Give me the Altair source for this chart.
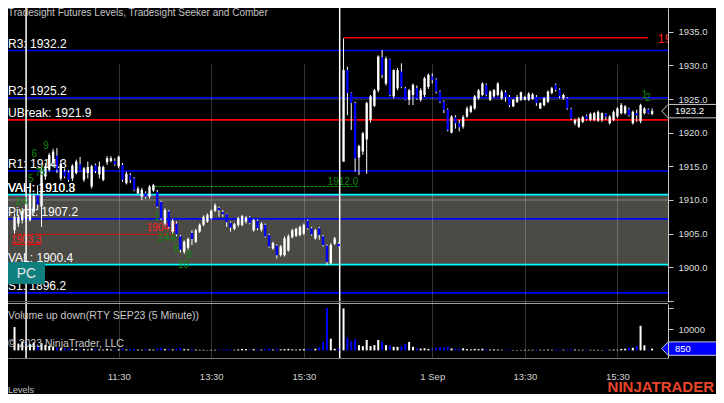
import altair as alt
import pandas as pd

FONT = "Liberation Sans"

# ------------------------------------------------------------------ data
# bar number: 0 = 9:35 bar of Aug 31; day-2 bars follow after the session break
day1_first_bar = -4
day2_first_bar = 81.3

day1_open = [1905.5, 1906.5, 1907.0, 1907.2, 1907.0, 1908.3, 1910.7, 1909.0, 1913.5, 1914.5,
             1915.5, 1916.6, 1913.2, 1914.2, 1914.1, 1913.2, 1914.0, 1915.3, 1913.0, 1914.0,
             1912.0, 1915.2, 1913.8, 1913.0, 1915.6, 1915.8, 1915.8, 1915.0, 1915.2, 1912.5,
             1913.7, 1913.2, 1911.0, 1910.5, 1911.0, 1910.5, 1911.4, 1911.2, 1909.7, 1906.5,
             1908.3, 1905.3, 1906.5, 1904.6, 1902.3, 1902.9, 1905.1, 1903.8, 1905.3, 1906.3,
             1906.8, 1907.3, 1908.4, 1908.8, 1908.2, 1907.9, 1906.6, 1905.7, 1906.3, 1906.3,
             1906.8, 1907.4, 1905.5, 1906.9, 1905.6, 1906.3, 1904.8, 1902.8, 1903.2, 1901.8,
             1901.8, 1902.5, 1904.5, 1904.7, 1904.8, 1905.0, 1906.9, 1905.8, 1904.3, 1905.8,
             1904.6, 1903.2, 1900.6, 1903.5, 1903.5]
day1_high = [1908.0, 1907.8, 1908.8, 1910.3, 1911.5, 1911.0, 1912.2, 1914.9, 1915.5, 1917.0,
             1917.6, 1917.7, 1915.9, 1914.7, 1914.4, 1915.3, 1916.0, 1916.4, 1914.9, 1915.7,
             1915.2, 1915.4, 1915.7, 1915.1, 1916.5, 1916.5, 1916.2, 1916.6, 1915.5, 1914.2,
             1914.0, 1913.4, 1912.0, 1911.8, 1911.3, 1912.2, 1912.4, 1911.5, 1909.9, 1908.8,
             1908.5, 1907.2, 1906.8, 1904.8, 1904.0, 1904.4, 1905.5, 1905.7, 1906.5, 1907.7,
             1908.0, 1908.6, 1909.5, 1909.0, 1908.5, 1908.0, 1906.8, 1906.6, 1907.5, 1907.8,
             1907.6, 1907.6, 1907.2, 1907.1, 1906.7, 1906.5, 1905.0, 1903.8, 1903.4, 1903.3,
             1904.6, 1904.9, 1905.7, 1905.9, 1906.2, 1906.5, 1907.1, 1906.0, 1905.7, 1906.0,
             1904.8, 1903.4, 1903.6, 1904.5, 1903.7]
day1_low = [1905.0, 1906.0, 1906.5, 1906.8, 1906.8, 1908.0, 1908.5, 1906.0, 1913.0, 1914.2,
            1914.9, 1914.0, 1912.9, 1913.2, 1912.7, 1912.8, 1913.8, 1914.2, 1912.7, 1913.2,
            1911.7, 1914.0, 1913.2, 1912.8, 1915.2, 1915.6, 1915.1, 1914.7, 1912.7, 1912.3,
            1912.5, 1911.3, 1910.9, 1910.0, 1910.2, 1910.2, 1911.2, 1908.8, 1907.0, 1906.2,
            1905.8, 1905.0, 1904.6, 1902.2, 1902.0, 1902.6, 1903.3, 1903.6, 1905.1, 1906.1,
            1906.6, 1907.1, 1908.2, 1907.5, 1907.5, 1906.0, 1905.3, 1905.5, 1906.0, 1906.1,
            1906.5, 1906.4, 1905.3, 1905.5, 1905.3, 1904.4, 1902.9, 1902.6, 1901.3, 1901.6,
            1901.6, 1902.3, 1904.3, 1904.5, 1904.6, 1904.8, 1905.6, 1904.7, 1904.1, 1904.1,
            1903.1, 1900.3, 1900.4, 1903.3, 1903.0]
day1_close = [1907.5, 1907.5, 1908.3, 1909.5, 1910.8, 1910.6, 1909.3, 1914.5, 1915.0, 1916.7,
              1917.2, 1914.5, 1915.4, 1913.5, 1913.0, 1915.1, 1915.7, 1914.3, 1914.7, 1914.9,
              1915.0, 1914.3, 1915.0, 1914.9, 1916.2, 1916.2, 1915.3, 1916.4, 1913.0, 1913.9,
              1913.0, 1911.5, 1911.7, 1911.5, 1910.5, 1912.0, 1912.2, 1909.0, 1907.3, 1908.5,
              1906.0, 1906.9, 1904.9, 1902.6, 1903.8, 1904.2, 1904.2, 1905.5, 1906.3, 1907.5,
              1907.8, 1908.4, 1909.2, 1908.5, 1907.9, 1906.7, 1905.9, 1906.4, 1907.3, 1907.6,
              1907.4, 1906.6, 1907.0, 1905.8, 1906.5, 1904.6, 1903.1, 1903.6, 1901.8, 1903.1,
              1904.3, 1904.6, 1905.5, 1905.7, 1906.0, 1906.3, 1905.8, 1904.9, 1905.5, 1904.8,
              1903.3, 1900.8, 1903.3, 1904.3, 1903.1]
day1_vol = [11000, 3200, 4200, 2800, 3000, 3800, 2200, 3400, 2600, 2100,
            1800, 1400, 1200, 900, 1000, 800, 700, 600, 700, 500,
            900, 600, 500, 400, 700, 400, 300, 500, 900, 400,
            500, 700, 400, 300, 600, 500, 400, 900, 1100, 600,
            700, 500, 800, 1200, 600, 500, 700, 400, 300, 300,
            200, 300, 300, 400, 300, 500, 400, 300, 500, 700,
            600, 400, 600, 500, 400, 700, 900, 400, 800, 500,
            600, 700, 500, 400, 500, 600, 700, 600, 800, 1600,
            4000, 20000, 5500, 800, 800]

day2_open = [1915.7, 1929.3, 1925.9, 1924.4, 1916.3, 1917.2, 1919.0, 1921.9, 1924.0, 1926.3,
             1931.2, 1927.3, 1930.9, 1925.4, 1926.6, 1929.1, 1926.6, 1924.9, 1925.6, 1926.6,
             1924.9, 1925.6, 1926.8, 1928.4, 1927.9, 1926.1, 1924.6, 1923.4, 1920.0, 1922.3,
             1921.4, 1920.9, 1922.4, 1923.1, 1923.6, 1925.1, 1925.6, 1927.1, 1924.9, 1925.4,
             1925.6, 1925.1, 1926.0, 1925.3, 1923.9, 1924.6, 1924.9, 1924.9, 1924.9, 1925.0,
             1925.3, 1923.6, 1924.1, 1924.6, 1925.9, 1927.1, 1926.4, 1925.1, 1925.1, 1923.5,
             1921.4, 1920.9, 1921.6, 1922.5, 1921.9, 1921.9, 1921.8, 1921.9, 1922.8, 1921.4,
             1921.9, 1922.4, 1922.9, 1922.9, 1923.5, 1921.4, 1922.9, 1921.7, 1922.9, 1923.4,
             1922.8]
day2_high = [1934.0, 1929.8, 1926.0, 1924.6, 1918.2, 1920.1, 1924.6, 1925.6, 1926.5, 1931.5,
             1932.3, 1931.3, 1931.0, 1929.4, 1929.6, 1930.3, 1926.8, 1926.5, 1927.3, 1927.0,
             1926.6, 1928.3, 1928.8, 1928.8, 1928.1, 1926.3, 1924.8, 1923.6, 1922.6, 1922.6,
             1921.9, 1922.6, 1923.9, 1924.1, 1925.6, 1926.5, 1927.5, 1927.3, 1926.3, 1926.5,
             1927.5, 1926.4, 1926.3, 1925.6, 1925.0, 1925.6, 1926.1, 1925.5, 1926.0, 1925.9,
             1925.6, 1924.5, 1925.3, 1926.3, 1926.8, 1927.3, 1926.6, 1925.8, 1925.3, 1923.7,
             1922.1, 1922.3, 1922.5, 1922.7, 1923.0, 1923.1, 1923.3, 1923.0, 1922.9, 1922.6,
             1923.3, 1923.8, 1924.4, 1924.1, 1923.7, 1923.3, 1923.4, 1924.3, 1923.8, 1923.6,
             1923.6]
day2_low = [1915.7, 1922.6, 1920.4, 1914.2, 1913.7, 1916.7, 1913.9, 1921.5, 1923.8, 1926.0,
            1928.1, 1927.0, 1925.4, 1925.1, 1926.3, 1926.6, 1924.8, 1924.1, 1924.1, 1924.9,
            1924.6, 1925.3, 1926.5, 1927.3, 1925.8, 1924.4, 1922.9, 1920.2, 1919.9, 1920.6,
            1920.2, 1920.6, 1922.2, 1922.9, 1923.4, 1924.9, 1925.4, 1925.4, 1924.7, 1925.2,
            1925.4, 1924.9, 1924.6, 1923.8, 1923.8, 1924.4, 1924.7, 1924.8, 1924.7, 1924.9,
            1924.0, 1923.5, 1923.9, 1924.4, 1925.7, 1926.1, 1925.1, 1924.9, 1923.4, 1921.9,
            1921.1, 1920.7, 1921.4, 1921.8, 1921.7, 1921.7, 1921.6, 1921.6, 1921.9, 1921.2,
            1921.7, 1922.2, 1922.7, 1922.7, 1922.4, 1921.2, 1921.6, 1921.4, 1922.7, 1922.8,
            1922.6]
day2_close = [1929.3, 1925.9, 1924.4, 1916.2, 1918.0, 1919.9, 1924.4, 1925.4, 1926.3, 1931.3,
              1928.6, 1931.0, 1925.6, 1929.3, 1929.3, 1926.8, 1924.9, 1926.3, 1927.1, 1925.1,
              1926.3, 1928.1, 1928.6, 1927.8, 1926.1, 1924.6, 1923.4, 1920.4, 1922.4, 1921.4,
              1920.8, 1922.3, 1923.6, 1923.9, 1925.4, 1926.3, 1927.3, 1925.6, 1926.1, 1926.3,
              1927.3, 1926.1, 1925.3, 1924.1, 1924.9, 1925.3, 1926.0, 1925.3, 1925.8, 1925.7,
              1924.4, 1924.4, 1925.1, 1926.1, 1926.6, 1926.4, 1925.4, 1925.6, 1923.6, 1922.1,
              1921.9, 1922.1, 1922.3, 1922.0, 1922.8, 1922.9, 1923.1, 1922.9, 1922.4, 1922.4,
              1923.1, 1923.6, 1924.1, 1923.9, 1922.6, 1923.1, 1922.6, 1924.1, 1923.6, 1922.9,
              1923.2]
day2_vol = [19800, 6000, 4400, 5200, 2500, 2000, 4900, 2000, 2500, 4900,
            4000, 2500, 2400, 1700, 1700, 2000, 3000, 4000, 1700, 900,
            800, 1000, 700, 600, 1300, 1500, 1400, 1800, 900, 700,
            800, 1000, 600, 500, 700, 600, 800, 500, 400, 500,
            400, 300, 300, 300, 200, 200, 200, 300, 300, 300,
            400, 300, 300, 400, 300, 500, 400, 300, 500, 600,
            400, 300, 300, 400, 300, 300, 300, 200, 300, 300,
            400, 300, 700, 800, 1300, 1200, 2000, 11600, 2400, 300,
            850]

time_tick_bars = [23, 47, 71, 104.3, 128.3, 152.3]
time_tick_labels = ["11:30", "13:30", "15:30", "1 Sep", "13:30", "15:30"]
session_marker_bars = [-1.0, 80.3]

price_ticks = [1895, 1900, 1905, 1910, 1915, 1920, 1925, 1930, 1935]
volume_ticks = [10000, 20000]

level_names = ["R4", "R3", "R2", "UBreak", "R1", "VAH", "Pivot", "VAL", "S1"]
level_values = [1939.1, 1932.2, 1925.2, 1921.9, 1914.3, 1910.8, 1907.2, 1900.4, 1896.2]
level_kinds = ["pivot", "pivot", "pivot", "break", "pivot", "va", "pivot", "va", "pivot"]
extra_label_text = ["VAH: 1910.3"]
extra_label_values = [1910.8]
minor_level_values = [1925.0, 1910.0]
prior_vah = 1910.6
value_area_low, value_area_high = 1900.4, 1910.8

# partial lines: name, price, first bar, last bar, label
seg_names = ["session high", "seeker stop", "seeker prior", "comber target"]
seg_values = [1934.1, 1904.9, 1903.4, 1912.0]
seg_start = [81.3, -4.0, -4.4, 32.3]
seg_end = [160.3, 38.2, 3.0, 85.1]
seg_labels = ["1934.1", "1904.9", "1903.3", "1912.0"]

count_text = ["9", "6", "8", "7", "5", "2", "4", "1", "2", "4", "6", "6", "8", "10", "1", "2"]
count_bar = [4.2, 1.1, 3.2, 2.1, 0.2, -3.0, -1.4, 32.9, 33.9, 35.5, 37.3, 38.0, 41.2, 39.8, 159.35, 160.2]
count_price = [1918.0, 1916.8, 1914.2, 1914.0, 1913.1, 1909.7, 1909.7, 1907.5, 1904.35, 1904.35,
               1904.35, 1902.7, 1901.9, 1900.4, 1925.6, 1925.1]

last_price = 1923.2
last_volume = 850

# ------------------------------------------------------------------ frames
n1, n2 = len(day1_open), len(day2_open)
bars = pd.DataFrame({
    "bar": [day1_first_bar + i for i in range(n1)] + [day2_first_bar + j for j in range(n2)],
    "open": day1_open + day2_open,
    "high": day1_high + day2_high,
    "low": day1_low + day2_low,
    "close": day1_close + day2_close,
    "vol": day1_vol + day2_vol,
})
levels = pd.DataFrame({"name": level_names, "value": level_values, "kind": level_kinds})
levels["label"] = [f"{n}: {v:.1f}" for n, v in zip(level_names, level_values)]
# the R4 label lies above the visible pane, only draw the others
labels_df = pd.concat([levels[levels.value < 1938][["label", "value"]],
                       pd.DataFrame({"label": extra_label_text, "value": extra_label_values})])
segs = pd.DataFrame({"name": seg_names, "value": seg_values, "start": seg_start,
                     "end": seg_end, "label": seg_labels})
counts = pd.DataFrame({"t": count_text, "bar": count_bar, "price": count_price})

# ------------------------------------------------------------------ layout
W, H = 660, 350
PRICE_PX = 294
VOL_TOP, VOL_BOT = 296, 350
P_MIN, P_MAX = 1894.845, 1938.523
V_MIN, V_MAX = -3585, 21887
X_MIN, X_MAX = -4.394, 164.12

X_SCALE = alt.Scale(domain=[X_MIN, X_MAX], nice=False, zero=False)
label_expr = " : ".join(f"abs(datum.value - {v}) < 0.01 ? '{t}'"
                        for v, t in zip(time_tick_bars, time_tick_labels)) + " : ''"
X_AXIS = alt.Axis(values=time_tick_bars, labelExpr=label_expr, grid=True, gridColor="#ffffff",
                  gridOpacity=0.2, gridWidth=1, domainColor="#7c7c7c", ticks=False, tickSize=0,
                  labelColor="#d2d2d2", labelFontSize=9.5, labelFont=FONT, labelPadding=13,
                  title=None, zindex=1, labelFlush=False, labelOverlap=False)
P_AXIS = alt.Axis(orient="right", values=price_ticks,
                  labelExpr="datum.value < 1899 ? '' : format(datum.value, '.1f')",
                  tickSize=5, tickColor="#c8c8c8", domainColor="#c8c8c8", labelColor="#dcdcdc",
                  labelFontSize=9.5, labelFont=FONT, labelPadding=5, grid=False, title=None,
                  zindex=1, labelFlush=False, labelOverlap=False)
V_AXIS = alt.Axis(orient="right", values=volume_ticks,
                  labelExpr="datum.value == 10000 ? '10000' : ''",
                  tickSize=5, tickColor="#c8c8c8", domainColor="#c8c8c8", labelColor="#dcdcdc",
                  labelFontSize=9.5, labelFont=FONT, labelPadding=5, grid=False, title=None,
                  zindex=1, labelFlush=False, labelOverlap=False)


def bx(field):
    return alt.X(f"{field}:Q", scale=X_SCALE, axis=X_AXIS)


def py(field, axis=None):
    return alt.Y(f"{field}:Q", axis=axis,
                 scale=alt.Scale(domain=[P_MIN, P_MAX], range=[PRICE_PX, 0], nice=False, zero=False))


def vy(field, axis=None):
    return alt.Y(f"{field}:Q", axis=axis,
                 scale=alt.Scale(domain=[V_MIN, V_MAX], range=[VOL_BOT, VOL_TOP], nice=False, zero=False))


UP = "#ffffff"
DOWN = "#0000ff"
is_up = alt.datum.close >= alt.datum.open

layers = []

# value area box
va_df = pd.DataFrame({"lo": [value_area_low], "hi": [value_area_high]})
layers.append(alt.Chart(va_df).mark_rect(color="#4b4a45").encode(
    x=alt.value(0), x2=alt.value(W), y=py("hi"), y2="lo:Q"))

# minor grey levels
layers.append(alt.Chart(pd.DataFrame({"value": minor_level_values})).mark_rule(
    color="#ffffff", opacity=0.3, strokeWidth=1).encode(y=py("value")))

# prior VAH (magenta) on day 1
layers.append(alt.Chart(pd.DataFrame({"value": [prior_vah], "start": [X_MIN], "end": [session_marker_bars[1]]}))
              .mark_rule(color="#c000c0", strokeWidth=1).encode(x=bx("start"), x2="end:Q", y=py("value")))

kind_color = {"pivot": "#0000ff", "break": "#ff0000", "va": "#00ffff"}
for kind, col in kind_color.items():
    sub = levels[levels.kind == kind]
    layers.append(alt.Chart(sub).mark_rule(color=col, strokeWidth=1.6).encode(y=py("value")))

# partial lines
seg_style = {
    "session high": dict(color="#ff0000", strokeWidth=1.6),
    "seeker stop": dict(color="#ff0000", strokeWidth=1, strokeDash=[3, 1]),
    "seeker prior": dict(color="#ff0000", strokeWidth=1.2),
    "comber target": dict(color="#00a000", strokeWidth=1, strokeDash=[3, 1]),
}
seg_text = {
    "session high": dict(align="left", dy=1, fontSize=13, color="#ff2020", clip=True),
    "seeker stop": dict(align="right", dy=-6, fontSize=10, color="#ff2020"),
    "seeker prior": dict(align="right", dy=-4, fontSize=10, color="#ff2020"),
    "comber target": dict(align="right", dy=-5, fontSize=10, color="#0b8a0b"),
}
label_anchor = {"session high": 162.7}
for name in seg_names:
    sub = segs[segs.name == name].copy()
    layers.append(alt.Chart(sub).mark_rule(**seg_style[name]).encode(
        x=bx("start"), x2="end:Q", y=py("value")))
    sub["anchor"] = label_anchor.get(name, float(sub["end"].iloc[0]))
    layers.append(alt.Chart(sub).mark_text(baseline="middle", font=FONT, **seg_text[name]).encode(
        x=bx("anchor"), y=py("value"), text="label:N"))

# session markers
layers.append(alt.Chart(pd.DataFrame({"bar": session_marker_bars})).mark_rule(
    color="#ffffff", strokeWidth=1.5).encode(x=bx("bar")))

# candles
layers.append(alt.Chart(bars).mark_rule(color="#ffffff", strokeWidth=1).encode(
    x=bx("bar"), y=py("low", P_AXIS), y2="high:Q"))
layers.append(alt.Chart(bars).mark_bar(size=2.4).encode(
    x=bx("bar"), y=py("open"), y2="close:Q",
    color=alt.condition(is_up, alt.value(UP), alt.value(DOWN))))

# volume
layers.append(alt.Chart(bars).mark_bar(size=2).encode(
    x=bx("bar"), y=vy("vol", V_AXIS), y2=alt.datum(0),
    color=alt.condition(is_up, alt.value(UP), alt.value(DOWN))))

# level labels
layers.append(alt.Chart(labels_df).mark_text(
    align="left", baseline="middle", dy=-7, fontSize=12, color="#ffffff", font=FONT).encode(
    x=alt.value(0), y=py("value"), text="label:N"))

# seeker / comber counts
layers.append(alt.Chart(counts).mark_text(
    align="center", baseline="middle", fontSize=10, color="#0b8a0b", font=FONT).encode(
    x=bx("bar"), y=py("price"), text="t:N"))

# pane separators
sep = pd.DataFrame({"k": [0]})
layers.append(alt.Chart(sep).mark_rule(color="#4a4a4a", strokeWidth=1).encode(
    x=alt.value(0), x2=alt.value(W), y=alt.value(293.5)))
layers.append(alt.Chart(sep).mark_rule(color="#a0a0a0", strokeWidth=1).encode(
    x=alt.value(0), x2=alt.value(W), y=alt.value(295.5)))


# texts
def note(txt, x, y, size, color, align="left", weight="normal"):
    return alt.Chart(pd.DataFrame({"t": [txt]})).mark_text(
        align=align, baseline="middle", fontSize=size, color=color, font=FONT, fontWeight=weight
    ).encode(x=alt.value(x), y=alt.value(y), text="t:N")


layers.append(note("Tradesight Futures Levels, Tradesight Seeker and Comber", 0, 5, 10, "#c4c4c4"))
layers.append(note("Volume up down(RTY SEP23 (5 Minute))", 0, 308, 10.5, "#c8c8c8"))
layers.append(note("\u00a9 2023 NinjaTrader, LLC", 0, 335.5, 10.5, "#c8c8c8"))
layers.append(note("Levels", 0, 382, 9, "#c8c8c8"))
layers.append(note("NINJATRADER", 706, 379, 15, "#e8452c", align="right", weight="bold"))

# PC button
layers.append(alt.Chart(sep).mark_rect(color="#0f7f7f").encode(
    x=alt.value(0), x2=alt.value(37), y=alt.value(254), y2=alt.value(276)))
layers.append(note("PC", 18.5, 265.5, 14, "#e6e6e6", align="center"))

# last price / last volume markers
marker_path = "M -1 0 L -0.79 -0.22 L 1 -0.22 L 1 0.22 L -0.79 0.22 Z"
lp = pd.DataFrame({"p": [last_price], "t": [f"{last_price:.1f}"]})
lv = pd.DataFrame({"v": [last_volume], "t": [str(last_volume)]})
layers.append(alt.Chart(lp).mark_point(shape=marker_path, size=3721, filled=True, fill="#000000",
                                       stroke="#c8c8c8", strokeWidth=1, opacity=1).encode(
    x=alt.value(684.2), y=py("p")))
layers.append(alt.Chart(lp).mark_text(align="left", baseline="middle", fontSize=9.5, color="#ffffff",
                                      font=FONT).encode(x=alt.value(667), y=py("p"), text="t:N"))
layers.append(alt.Chart(lv).mark_point(shape=marker_path, size=3721, filled=True, fill="#0000ff",
                                       stroke="#c8c8c8", strokeWidth=1, opacity=1).encode(
    x=alt.value(684.2), y=vy("v")))
layers.append(alt.Chart(lv).mark_text(align="left", baseline="middle", fontSize=9.5, color="#ffffff",
                                      font=FONT).encode(x=alt.value(667), y=vy("v"), text="t:N"))

chart = alt.layer(*layers).resolve_scale(y="independent").properties(
    width=W, height=H,
    padding={"left": 0, "top": 0, "right": 48, "bottom": 36},
    autosize=alt.AutoSizeParams(type="none"),
    background="#000000",
).configure_view(strokeWidth=0)

chart.save("out.html", embed_options={"renderer": "svg", "actions": False})
